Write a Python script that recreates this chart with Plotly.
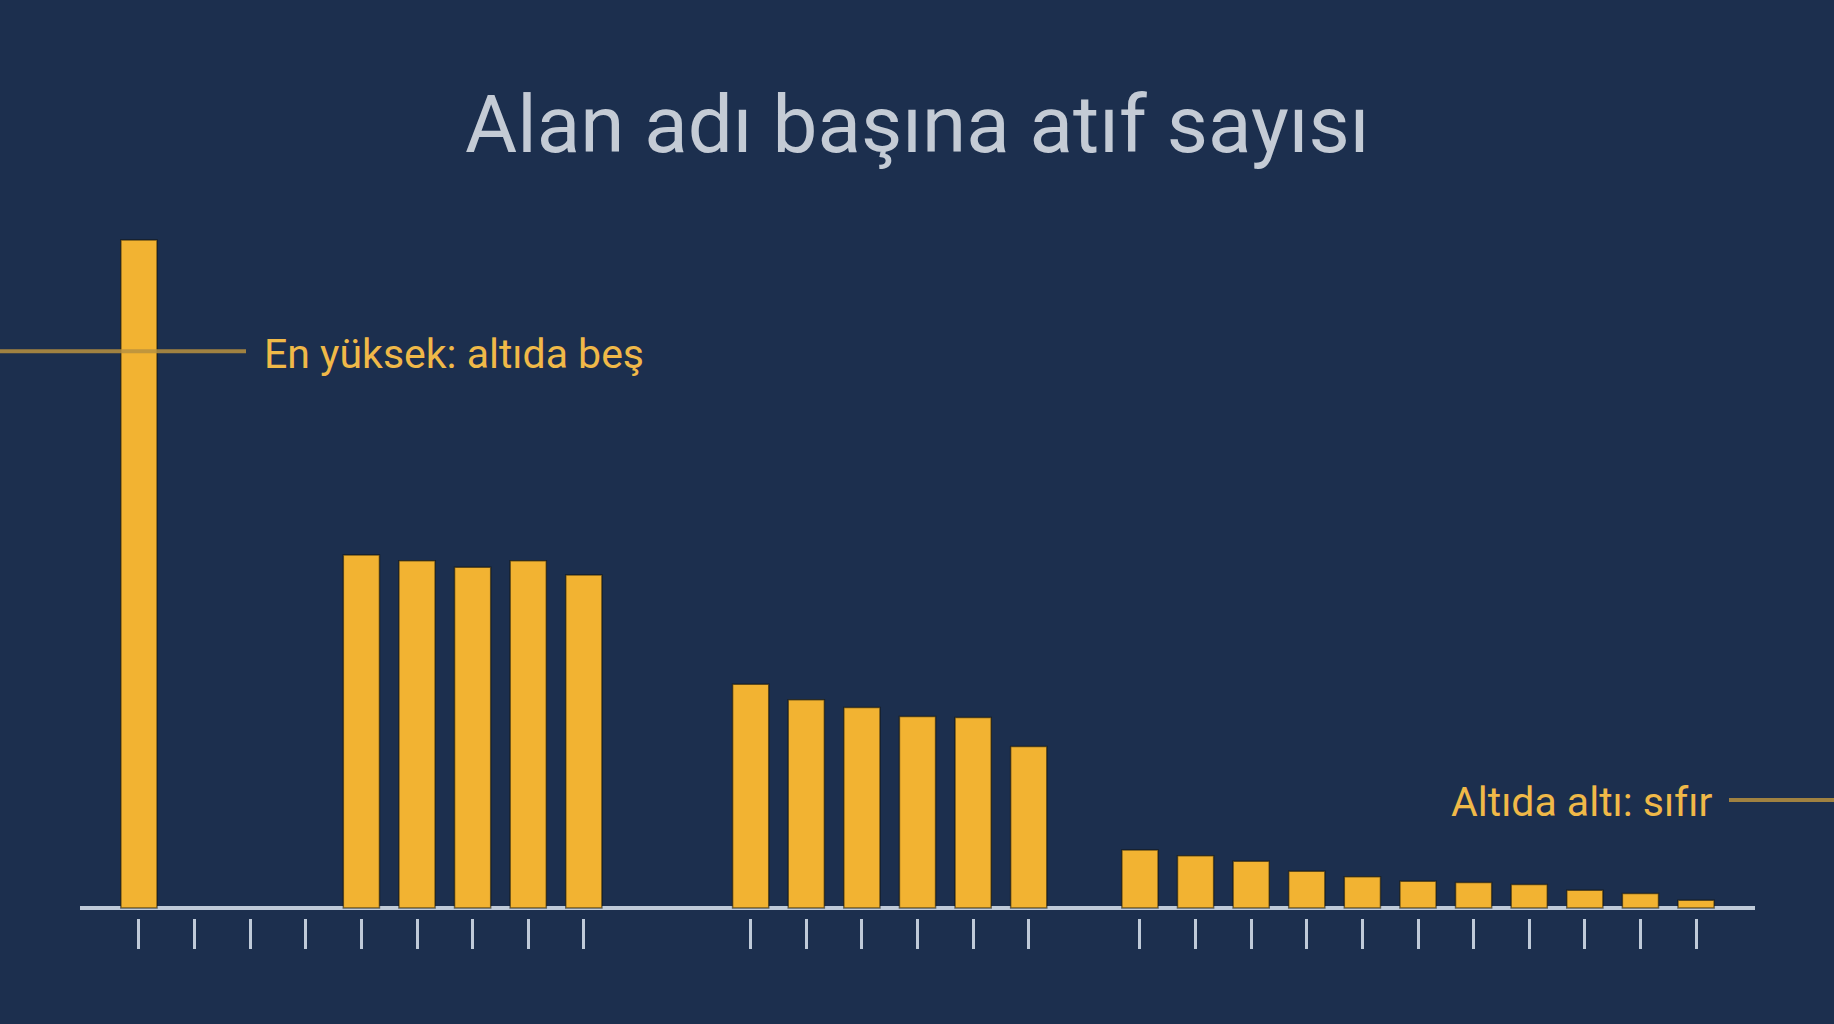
import plotly.graph_objects as go

# ---- data ----
title_text = "Alan adı başına atıf sayısı"
# citation counts per slot (None = empty gap between groups)
values = [60.0, 0, 0, 0, 31.7, 31.2, 30.6, 31.2, 29.9,
          None, None,
          20.1, 18.7, 18.0, 17.2, 17.1, 14.5,
          None,
          5.2, 4.7, 4.2, 3.3, 2.8, 2.4, 2.3, 2.1, 1.6, 1.3, 0.7]
high_label = "En yüksek: altıda beş"
high_level = 50.0
low_label = "Altıda altı: sıfır"
low_level = 9.7

# ---- styles ----
BG = "#1C2F4E"
BAR = "#F2B332"
TXT = "#C4CBD5"
GOLD_TXT = "#F0B948"
GOLD_LINE = "#B8913F"
AXIS = "#BFCAD8"

W, H = 1834, 1024
ML, MR, MT, MB = 80, 79, 200, 106

slots = list(range(len(values)))
bar_x = [s for s, v in zip(slots, values) if v is not None]
bar_y = [v for v in values if v is not None]

fig = go.Figure()
fig.add_trace(go.Bar(
    x=bar_x, y=bar_y,
    marker=dict(color=BAR,
                line=dict(color="rgba(15,15,5,0.55)",
                          width=[1.5 if v > 0 else 0 for v in bar_y])),
    hoverinfo="skip",
))

fig.update_layout(
    width=W, height=H,
    margin=dict(l=ML, r=MR, t=MT, b=MB),
    paper_bgcolor=BG, plot_bgcolor=BG,
    showlegend=False,
    bargap=0.35,
    font=dict(family="Roboto", color=TXT),
    xaxis=dict(
        range=[-1.06, len(values) - 1 + 1.06],
        tickvals=bar_x, ticktext=[""] * len(bar_x),
        ticks="outside", ticklen=30, tickwidth=3, tickcolor=AXIS,
        showticklabels=False, showline=False, showgrid=False, zeroline=False,
    ),
    yaxis=dict(
        range=[-0.898, 63.59],
        showticklabels=False, showline=False, showgrid=False,
        zeroline=True, zerolinecolor=AXIS, zerolinewidth=4,
        layer="above traces",
    ),
)

pw = W - ML - MR
ph = H - MT - MB

def px_x(p):
    return (p - ML) / pw

def px_y(p):
    return (H - MB - p) / ph

# title
fig.add_annotation(
    text=title_text, xref="paper", yref="paper",
    x=px_x(917), y=px_y(125), xanchor="center", yanchor="middle",
    showarrow=False, font=dict(family="Roboto", size=80, color=TXT),
)

# reference lines
fig.add_shape(type="line", xref="paper", yref="y",
              x0=px_x(0), x1=px_x(246), y0=high_level, y1=high_level,
              line=dict(color=GOLD_LINE, width=4), opacity=0.85, layer="above")
fig.add_shape(type="line", xref="paper", yref="y",
              x0=px_x(1729), x1=px_x(1834), y0=low_level, y1=low_level,
              line=dict(color=GOLD_LINE, width=4), opacity=0.85, layer="above")

fig.add_annotation(
    text=high_label, xref="paper", yref="y",
    x=px_x(262), y=high_level, xanchor="left", yanchor="middle", yshift=-3,
    showarrow=False, font=dict(family="Roboto", size=41, color=GOLD_TXT),
)
fig.add_annotation(
    text=low_label, xref="paper", yref="y",
    x=px_x(1715), y=low_level, xanchor="right", yanchor="middle", yshift=-2,
    showarrow=False, font=dict(family="Roboto", size=41, color=GOLD_TXT),
)

fig.write_html(
    "out.html",
    config={"displayModeBar": False},
    post_script="document.body.style.margin='0';document.body.style.background='%s';" % BG,
)
